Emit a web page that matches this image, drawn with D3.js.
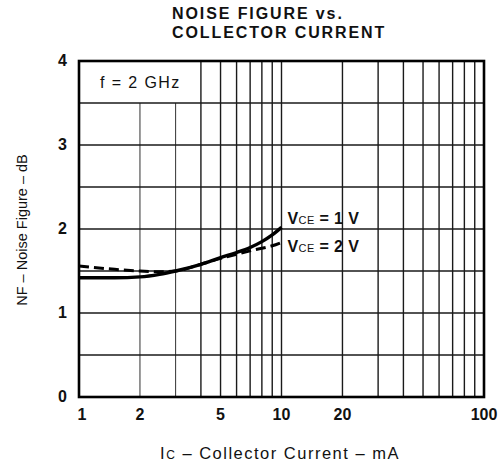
<!DOCTYPE html>
<html>
<head>
<meta charset="utf-8">
<script src="https://cdn.jsdelivr.net/npm/d3@7"></script>
<style>
  body { margin: 0; background: #fff; }
  svg { display: block; }
  text { font-family: "Liberation Sans", Arial, sans-serif; fill: #111; }
</style>
</head>
<body>
<div id="chart"></div>
<script>
// values
var current = [1, 1.5, 2, 2.5, 3, 4, 5, 6, 7, 8, 9, 10]
var nfVce1 = [1.42, 1.42, 1.43, 1.46, 1.50, 1.58, 1.66, 1.72, 1.78, 1.85, 1.93, 2.02]
var nfVce2 = [1.56, 1.52, 1.50, 1.49, 1.50, 1.58, 1.65, 1.70, 1.74, 1.77, 1.80, 1.84]

var xTickLabels = [1, 2, 5, 10, 20, 100]
var yTickLabels = [0, 1, 2, 3, 4]
var xGrid = [2, 3, 4, 5, 6, 7, 8, 9, 10, 20, 30, 40, 50, 60, 70, 80, 90]
var yGrid = [0.5, 1, 1.5, 2, 2.5, 3, 3.5]

var width = 500, height = 467
var margin = { top: 61, right: 16, bottom: 70, left: 79 }
var w = width - margin.left - margin.right,
    h = height - margin.top - margin.bottom

var svg = d3.select("#chart").append("svg")
    .attr("width", width)
    .attr("height", height)

var g = svg.append("g")
    .attr("transform", "translate(" + margin.left + "," + margin.top + ")")

var x = d3.scaleLog().domain([1, 100]).range([0, w])
var y = d3.scaleLinear().domain([0, 4]).range([h, 0])

// grid - verticals skip the label box in the top band for I < 4
g.selectAll(".vgrid")
    .data(xGrid)
    .enter()
    .append("line")
    .attr("class", "vgrid")
    .attr("x1", function (d) { return x(d) })
    .attr("x2", function (d) { return x(d) })
    .attr("y1", function (d) { return d < 4 ? y(3.5) : 0 })
    .attr("y2", h)
    .attr("stroke", "#1a1a1a")
    .attr("stroke-width", function (d) { return d == 2 || d == 3 ? 0.9 : 1.4 })

g.selectAll(".hgrid")
    .data(yGrid)
    .enter()
    .append("line")
    .attr("class", "hgrid")
    .attr("x1", 0)
    .attr("x2", w)
    .attr("y1", function (d) { return y(d) })
    .attr("y2", function (d) { return y(d) })
    .attr("stroke", "#1a1a1a")
    .attr("stroke-width", 1.3)

// frame
g.append("rect")
    .attr("x", 0)
    .attr("y", 0)
    .attr("width", w)
    .attr("height", h)
    .attr("fill", "none")
    .attr("stroke", "#000")
    .attr("stroke-width", 2.6)

// curves
var line = d3.line()
    .x(function (d) { return x(d[0]) })
    .y(function (d) { return y(d[1]) })
    .curve(d3.curveMonotoneX)

g.append("path")
    .datum(d3.zip(current, nfVce2))
    .attr("d", line)
    .attr("fill", "none")
    .attr("stroke", "#000")
    .attr("stroke-width", 3)
    .attr("stroke-dasharray", "10,5")

g.append("path")
    .datum(d3.zip(current, nfVce1))
    .attr("d", line)
    .attr("fill", "none")
    .attr("stroke", "#000")
    .attr("stroke-width", 3.4)

// tick labels
g.selectAll(".xlab")
    .data(xTickLabels)
    .enter()
    .append("text")
    .attr("class", "xlab")
    .attr("x", function (d) { return x(d) + (d == 1 ? 3 : 0) })
    .attr("y", h + 23)
    .attr("text-anchor", "middle")
    .style("font-size", "16px")
    .style("font-weight", "bold")
    .text(function (d) { return d })

g.selectAll(".ylab")
    .data(yTickLabels)
    .enter()
    .append("text")
    .attr("class", "ylab")
    .attr("x", -12)
    .attr("y", function (d) { return y(d) + 5 })
    .attr("text-anchor", "end")
    .style("font-size", "16px")
    .style("font-weight", "bold")
    .text(function (d) { return d })

// in-plot labels
g.append("text")
    .attr("x", 21)
    .attr("y", 27)
    .style("font-size", "16px")
    .style("letter-spacing", "1.4px")
    .text("f = 2 GHz")

function vceLabel(yy, v) {
    var t = g.append("text")
        .attr("x", x(10) + 6)
        .attr("y", yy)
        .style("font-size", "16px")
        .style("font-weight", "bold")
        .style("letter-spacing", "0.4px")
    t.append("tspan").text("V")
    t.append("tspan").style("font-size", "11px").style("font-weight", "normal").text("CE")
    t.append("tspan").text(" = " + v + " V")
}
vceLabel(y(2.06), 1)
vceLabel(y(1.73), 2)

// titles
svg.append("text")
    .attr("x", 172)
    .attr("y", 19)
    .style("font-size", "16px")
    .style("font-weight", "bold")
    .style("letter-spacing", "1.9px")
    .text("NOISE FIGURE vs.")
svg.append("text")
    .attr("x", 172)
    .attr("y", 37.5)
    .style("font-size", "16px")
    .style("font-weight", "bold")
    .style("letter-spacing", "1.9px")
    .text("COLLECTOR CURRENT")

var xt = svg.append("text")
    .attr("x", 280)
    .attr("y", 459)
    .attr("text-anchor", "middle")
    .style("font-size", "16.5px")
    .style("letter-spacing", "1.5px")
xt.append("tspan").text("I")
xt.append("tspan").style("font-size", "12px").text("C")
xt.append("tspan").text(" \u2013 Collector Current \u2013 mA")

svg.append("text")
    .attr("transform", "translate(27,230) rotate(-90)")
    .attr("text-anchor", "middle")
    .style("font-size", "14.5px")
    .text("NF \u2013 Noise Figure \u2013 dB")
</script>
</body>
</html>
